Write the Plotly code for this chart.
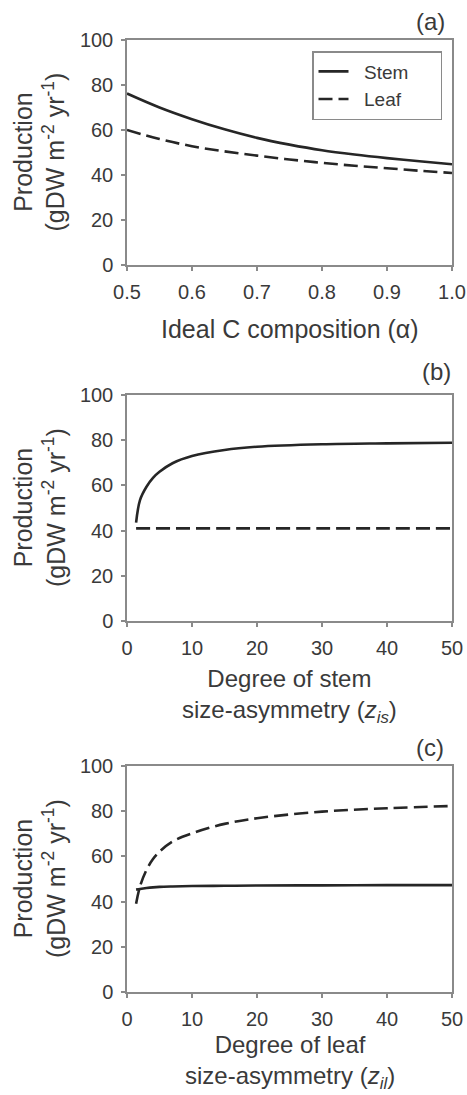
import plotly.graph_objects as go

# ---------------- data ----------------
alpha = [0.50, 0.55, 0.60, 0.65, 0.70, 0.75, 0.80, 0.85, 0.90, 0.95, 1.00]
a_stem = [76.2, 70.0, 64.8, 60.3, 56.5, 53.5, 51.0, 49.1, 47.5, 46.1, 44.8]
a_leaf = [60.0, 56.0, 52.8, 50.5, 48.6, 46.9, 45.4, 44.1, 43.0, 41.9, 40.9]

z_is = [1.4, 2, 3, 4, 5, 7, 10, 15, 20, 30, 40, 50]
b_stem = [43.5, 53.5, 59.4, 63.3, 66.0, 69.8, 73.0, 75.7, 77.1, 78.2, 78.6, 78.9]
b_leaf = [41.0, 41.0, 41.0, 41.0, 41.0, 41.0, 41.0, 41.0, 41.0, 41.0, 41.0, 41.0]

z_il = [1.4, 2, 3, 4, 5, 7, 10, 15, 20, 30, 40, 50]
c_stem = [45.3, 45.6, 46.0, 46.3, 46.5, 46.7, 46.9, 47.0, 47.1, 47.2, 47.3, 47.3]
c_leaf = [39.0, 46.7, 54.0, 58.8, 62.1, 66.6, 70.2, 74.4, 76.9, 79.8, 81.3, 82.3]

y_ticks = [0, 20, 40, 60, 80, 100]
a_xticks = [0.5, 0.6, 0.7, 0.8, 0.9, 1.0]
a_xticklabels = ["0.5", "0.6", "0.7", "0.8", "0.9", "1.0"]
bc_xticks = [0, 10, 20, 30, 40, 50]

# ---------------- layout helpers ----------------
W, H = 467, 1095
FONT = "Liberation Sans, Arial, Helvetica, sans-serif"
TXT = "#3a3a3a"
AX = "#8a8a8a"
LINE = "#262626"
NB = "\u00a0"


def px_x(p):
    return p / W


def px_y(p):
    return 1 - p / H


left, right = 127, 452
panels = [(40, 265), (395, 621), (766, 992)]

fig = go.Figure()

series = [
    (alpha, a_stem, a_leaf, "x", "y"),
    (z_is, b_stem, b_leaf, "x2", "y2"),
    (z_il, c_stem, c_leaf, "x3", "y3"),
]
for i, (xs, stem, leaf, xa, ya) in enumerate(series):
    fig.add_trace(go.Scatter(x=xs, y=stem, mode="lines",
                             name=NB * 2 + "Stem" + NB * 5,
                             line=dict(color=LINE, width=2.6, shape="spline"),
                             xaxis=xa, yaxis=ya, showlegend=(i == 0)))
    fig.add_trace(go.Scatter(x=xs, y=leaf, mode="lines",
                             name=NB * 2 + "Leaf",
                             line=dict(color=LINE, width=2.6, shape="spline",
                                       dash="14px,6px"),
                             xaxis=xa, yaxis=ya, showlegend=(i == 0)))

axis_common = dict(showline=True, linecolor=AX, linewidth=1.5, mirror=True,
                   showgrid=False, zeroline=False, ticks="outside",
                   ticklen=4, tickwidth=1.5, tickcolor=AX, automargin=False,
                   ticklabelstandoff=4,
                   tickfont=dict(family=FONT, size=20, color=TXT))

layout = dict(width=W, height=H, margin=dict(l=0, r=0, t=0, b=0, pad=0),
              paper_bgcolor="white", plot_bgcolor="white",
              font=dict(family=FONT, color=TXT),
              showlegend=True,
              legend=dict(x=px_x(312), y=px_y(51), xanchor="left", yanchor="top",
                          bordercolor=AX, borderwidth=1.5, bgcolor="white",
                          font=dict(family=FONT, size=19, color=TXT),
                          tracegroupgap=0))

names = ["", "2", "3"]
for i, (top, bot) in enumerate(panels):
    n = names[i]
    xa = dict(axis_common, domain=[px_x(left), px_x(right)],
              anchor="y" + n)
    if i == 0:
        xa.update(range=[0.5, 1.0], tickvals=a_xticks, ticktext=a_xticklabels)
    else:
        xa.update(range=[0, 50], tickvals=bc_xticks)
    ya = dict(axis_common, domain=[px_y(bot), px_y(top)], anchor="x" + n,
              range=[0, 100], tickvals=y_ticks)
    layout["xaxis" + n] = xa
    layout["yaxis" + n] = ya

fig.update_layout(**layout)

ann = []
ytitle = "Production<br>(gDW m<sup>-2</sup> yr<sup>-1</sup>)"
for (top, bot) in panels:
    ann.append(dict(text=ytitle, x=px_x(39), y=px_y((top + bot) / 2),
                    xref="paper", yref="paper", textangle=-90,
                    xanchor="center", yanchor="middle",
                    showarrow=False, font=dict(family=FONT, size=25, color=TXT)))

xtitles = [
    ("Ideal C composition (α)", 329, 25),
    ("Degree of stem<br>size-asymmetry (<i>z<sub>is</sub></i>)", 696, 24),
    ("Degree of leaf<br>size-asymmetry (<i>z<sub>il</sub></i>)", 1062, 24),
]
for t, yy, fs in xtitles:
    ann.append(dict(text=t, x=px_x((left + right) / 2), y=px_y(yy),
                    xref="paper", yref="paper", showarrow=False,
                    xanchor="center", yanchor="middle",
                    font=dict(family=FONT, size=fs, color=TXT)))

for t, xx, yy in [("(a)", 430, 22), ("(b)", 436, 372), ("(c)", 430, 747)]:
    ann.append(dict(text=t, x=px_x(xx), y=px_y(yy), xref="paper", yref="paper",
                    xanchor="center", yanchor="middle",
                    showarrow=False, font=dict(family=FONT, size=24, color=TXT)))

fig.update_layout(annotations=ann)
fig.write_html("out.html", config={"displayModeBar": False},
               post_script="document.body.style.margin='0';")
